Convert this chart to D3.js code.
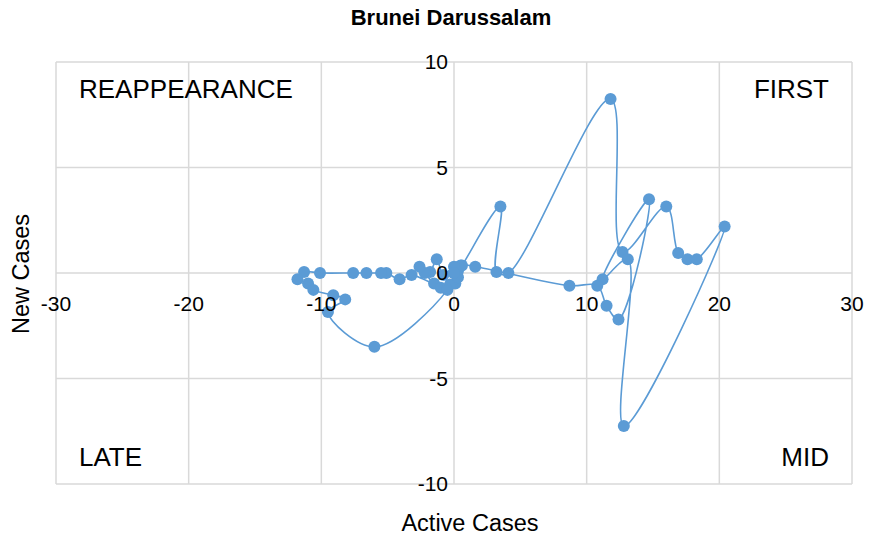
<!DOCTYPE html>
<html>
<head>
<meta charset="utf-8">
<script src="https://cdn.jsdelivr.net/npm/d3@7"></script>
<style>
  body { margin: 0; background: #fff; }
  text { font-family: "Liberation Sans", Arial, sans-serif; fill: #000; }
</style>
</head>
<body>
<svg id="chart" width="875" height="543"></svg>
<script>
// trajectory, in time order
var activeCases = [0, 0.3, 0.6, 3.5, 3.2, 4.1, 11.8, 12.7, 16.0, 16.9, 17.6, 18.3, 20.4, 12.8, 13.1, 11.2, 14.7, 12.4, 11.5, 10.8, 8.7,
    1.6, 0.5, 0.1, -0.3, 0.3, 0.0, -0.8, -1.3, -1.8, -2.2, -2.6, -1.5, -1.0, -3.2, -4.1, -5.1, -5.5, -6.6, -7.6, -10.1,
    -11.3, -11.8, -11.0, -10.6, -9.1, -8.2, -9.5, -6.0, -0.5, 0.0];
var newCases = [0, 0.1, 0.35, 3.15, 0.05, 0.0, 8.25, 1.0, 3.15, 0.95, 0.65, 0.65, 2.2, -7.25, 0.65, -0.3, 3.5, -2.2, -1.55, -0.6, -0.6,
    0.3, 0.35, -0.5, -0.55, -0.2, 0.3, -0.1, 0.65, 0.05, 0.0, 0.3, -0.5, -0.7, -0.1, -0.3, 0.0, 0.0, 0.0, 0.0, 0.0,
    0.05, -0.3, -0.5, -0.8, -1.05, -1.25, -1.85, -3.5, -0.8, 0.0];
var xTicks = [-30, -20, -10, 0, 10, 20, 30];
var yTicks = [-10, -5, 0, 5, 10];
var quadrants = [
    {label: 'REAPPEARANCE', x: -30, y: 10, anchor: 'start'},
    {label: 'FIRST', x: 30, y: 10, anchor: 'end'},
    {label: 'LATE', x: -30, y: -10, anchor: 'start'},
    {label: 'MID', x: 30, y: -10, anchor: 'end'}
];

var svg = d3.select('#chart');
var plotL = 56, plotR = 852, plotT = 62, plotB = 484;
var color = '#5b9bd5';

var x = d3.scaleLinear().domain([-30, 30]).range([plotL, plotR]);
var y = d3.scaleLinear().domain([-10, 10]).range([plotB, plotT]);

// grid
svg.append('g').selectAll('line')
    .data(xTicks).enter().append('line')
    .attr('x1', function(d) { return x(d); }).attr('x2', function(d) { return x(d); })
    .attr('y1', plotT).attr('y2', plotB)
    .attr('stroke', '#d9d9d9').attr('stroke-width', 1.5);
svg.append('g').selectAll('line')
    .data(yTicks).enter().append('line')
    .attr('y1', function(d) { return y(d); }).attr('y2', function(d) { return y(d); })
    .attr('x1', plotL).attr('x2', plotR)
    .attr('stroke', '#d9d9d9').attr('stroke-width', 1.5);

// quadrant names
svg.append('g').selectAll('text')
    .data(quadrants).enter().append('text')
    .attr('x', function(d) { return d.anchor == 'start' ? x(d.x) + 23 : x(d.x) - 23; })
    .attr('y', function(d) { return d.y > 0 ? y(d.y) + 36 : y(d.y) - 18; })
    .attr('text-anchor', function(d) { return d.anchor; })
    .style('font-size', '26px')
    .text(function(d) { return d.label; });

var pts = activeCases.map(function(a, i) { return [a, newCases[i]]; });

var line = d3.line()
    .x(function(d) { return x(d[0]); })
    .y(function(d) { return y(d[1]); })
    .curve(d3.curveCatmullRom.alpha(0.5));

svg.append('path')
    .datum(pts)
    .attr('d', line)
    .attr('fill', 'none')
    .attr('stroke', color)
    .attr('stroke-width', 1.6);

svg.append('g').selectAll('circle')
    .data(pts).enter().append('circle')
    .attr('cx', function(d) { return x(d[0]); })
    .attr('cy', function(d) { return y(d[1]); })
    .attr('r', 6)
    .attr('fill', color);

// tick labels sit on the zero lines, drawn over the markers
svg.append('g').selectAll('text')
    .data(xTicks).enter().append('text')
    .attr('x', function(d) { return x(d); })
    .attr('y', y(0) + 38)
    .attr('text-anchor', 'middle')
    .style('font-size', '21px')
    .text(function(d) { return d; });
svg.append('g').selectAll('text')
    .data(yTicks).enter().append('text')
    .attr('x', x(0) - 6)
    .attr('y', function(d) { return y(d) + 7; })
    .attr('text-anchor', 'end')
    .style('font-size', '21px')
    .text(function(d) { return d; });

// titles
svg.append('text')
    .attr('x', 451).attr('y', 25)
    .attr('text-anchor', 'middle')
    .style('font-size', '22px').style('font-weight', 'bold')
    .text('Brunei Darussalam');
svg.append('text')
    .attr('x', 470).attr('y', 531)
    .attr('text-anchor', 'middle')
    .style('font-size', '23.5px')
    .text('Active Cases');
svg.append('text')
    .attr('transform', 'translate(29,274) rotate(-90)')
    .attr('text-anchor', 'middle')
    .style('font-size', '23.5px')
    .text('New Cases');
</script>
</body>
</html>
